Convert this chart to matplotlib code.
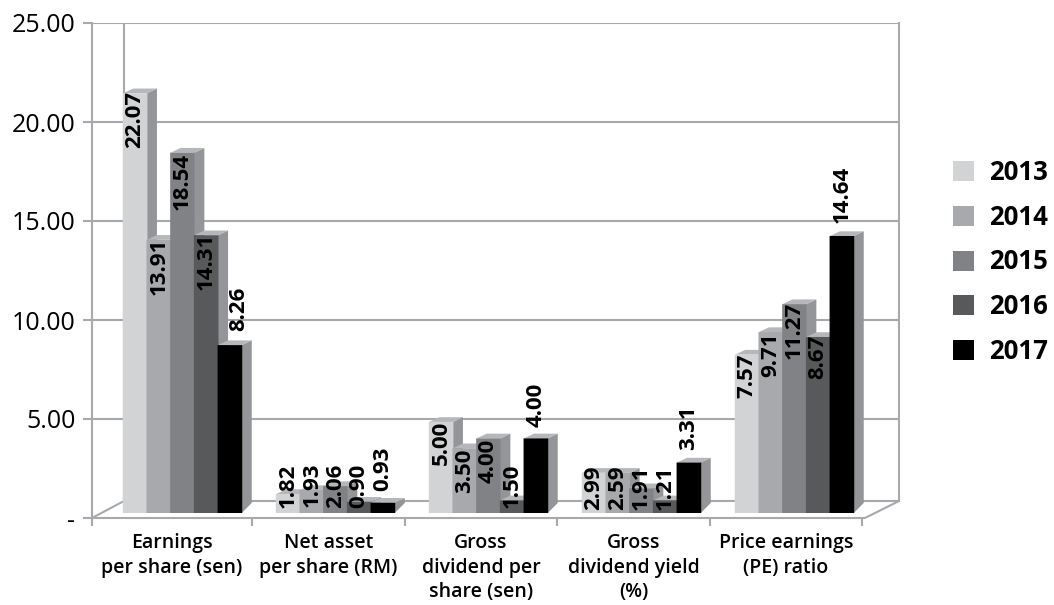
import matplotlib
matplotlib.use("Agg")
from matplotlib import pyplot as plt
from matplotlib.patches import Polygon

plt.rcParams['font.family'] = ['Open Sans', 'DejaVu Sans']

categories = ["Earnings\nper share (sen)", "Net asset\nper share (RM)", "Gross\ndividend per\nshare (sen)",
              "Gross\ndividend yield\n(%)", "Price earnings\n(PE) ratio"]
years = ["2013", "2014", "2015", "2016", "2017"]

# the printed numbers do not agree with the bar heights, so both are kept
heights_2013 = [21.2, 0.96, 4.6, 2.03, 8.0]
heights_2014 = [13.8, 1.16, 3.27, 2.03, 9.14]
heights_2015 = [18.2, 1.36, 3.77, 1.25, 10.55]
heights_2016 = [14.03, 0.57, 0.64, 0.64, 8.89]
heights_2017 = [8.48, 0.52, 3.77, 2.55, 13.99]

labels_2013 = ["22.07", "1.82", "5.00", "2.99", "7.57"]
labels_2014 = ["13.91", "1.93", "3.50", "2.59", "9.71"]
labels_2015 = ["18.54", "2.06", "4.00", "1.91", "11.27"]
labels_2016 = ["14.31", "0.90", "1.50", "1.21", "8.67"]
labels_2017 = ["8.26", "0.93", "4.00", "3.31", "14.64"]

heights = [heights_2013, heights_2014, heights_2015, heights_2016, heights_2017]
labels = [labels_2013, labels_2014, labels_2015, labels_2016, labels_2017]

# where the lower end of each rotated number sits, on the value scale
label_base = [[18.69, 0.5, 2.68, 0.4, 6.06],
              [11.26, 0.56, 1.26, 0.4, 7.12],
              [15.56, 0.5, 1.77, 0.4, 8.03],
              [11.52, 0.5, 0.5, 0.4, 7.02],
              [9.44, 1.36, 4.6, 3.43, 14.9]]

colors = ["#d1d3d4", "#a7a9ac", "#808285", "#58595b", "#000000"]
side_color = "#939598"
top_color = "#b5b7ba"
line_color = "#a7a9ac"

# layout in pixels of the 1054x605 picture
left, right, top, bottom = 92, 899, 23, 518
px_x = 153.0
px_y = 99 / 5
center0 = 182.5

fig = plt.figure(figsize=(10.54, 6.05), dpi=100)
ax = fig.add_axes([left / 1054, 1 - bottom / 605, (right - left) / 1054, (bottom - top) / 605])
ax.set_xlim((left - center0) / px_x, (right - center0) / px_x)
ax.set_ylim(0, 25)
xmin, xmax = ax.get_xlim()

wall_dx = 32 / px_x
floor_y = 17 / px_y
front_right = (865 - center0) / px_x

lw = 1.5
ax.hlines([5, 10, 15, 20, 25], xmin, xmax, color=line_color, lw=lw, zorder=1)
ax.plot([xmin + wall_dx, xmin + wall_dx], [floor_y, 25], color=line_color, lw=lw, zorder=1)
ax.plot([xmax, xmax], [floor_y, 25], color=line_color, lw=lw, zorder=1, clip_on=False)
ax.plot([xmin, xmin + wall_dx, xmax, front_right], [0, floor_y, floor_y, 0], color=line_color, lw=lw, zorder=1)

bar_w = 23.7 / px_x
base = 5 / px_y
dx = 10 / px_x
dy_top = 4.7 / px_y
dy_base = 10 / px_y

z = 3
for j in range(5):
    for i in range(5):
        x = i + (j - 2) * bar_w
        h = heights[j][i]
        l, r, t = x - bar_w / 2, x + bar_w / 2, base + h
        ax.add_patch(Polygon([(r, base), (r + dx, base + dy_base), (r + dx, t + dy_top), (r, t)],
                             fc=side_color, ec="none", zorder=z))
        ax.add_patch(Polygon([(l, t), (l + dx, t + dy_top), (r + dx, t + dy_top), (r, t)],
                             fc=top_color, ec="none", zorder=z))
        shift = 9 / px_x if labels[j][i] == "8.26" else 0
        ax.text(x + shift, label_base[j][i], labels[j][i], rotation=90, ha="center", va="bottom",
                fontsize=16, fontweight="bold", color="black", zorder=50)
        z += 1
    # a little wider than the slot so no white seam shows between neighbours
    bars = ax.bar([i + (j - 2) * bar_w for i in range(5)], heights[j], width=bar_w * 1.04, bottom=base,
                  color=colors[j], lw=0, label=years[j], zorder=z + 1)
    for b in bars:
        b.set_snap(False)

for side in ["top", "right"]:
    ax.spines[side].set_visible(False)
for side in ["left", "bottom"]:
    ax.spines[side].set_color(line_color)
    ax.spines[side].set_linewidth(lw)
    ax.spines[side].set_zorder(2)
ax.spines["bottom"].set_bounds(xmin, front_right)

ax.set_yticks([0, 5, 10, 15, 20, 25])
ax.set_yticklabels(["-", "5.00", "10.00", "15.00", "20.00", "25.00"])
ax.tick_params(axis="y", length=6.5, width=lw, color=line_color, pad=5.5, labelsize=18)

ax.set_xticks([xmin] + [(252 - center0) / px_x + i * 152.6 / px_x for i in range(5)])
ax.set_xticklabels([])
ax.tick_params(axis="x", which="major", length=6, width=lw, color=line_color)
ticks = ax.get_xticks()
ax.set_xticks([(ticks[i] + ticks[i + 1]) / 2 for i in range(5)], minor=True)
ax.set_xticklabels(categories, minor=True, fontsize=14, fontweight="semibold", linespacing=1.32)
ax.tick_params(axis="x", which="minor", length=0, pad=10.6)

fig.legend(loc="upper left", bbox_to_anchor=(953 / 1054, 1 - 159 / 605), frameon=False,
           prop={"weight": "bold", "size": 18.5}, handlelength=0.82, handleheight=0.82,
           handletextpad=0.6, labelspacing=0.69, borderpad=0, borderaxespad=0)

fig.savefig("out.png", dpi=100)
